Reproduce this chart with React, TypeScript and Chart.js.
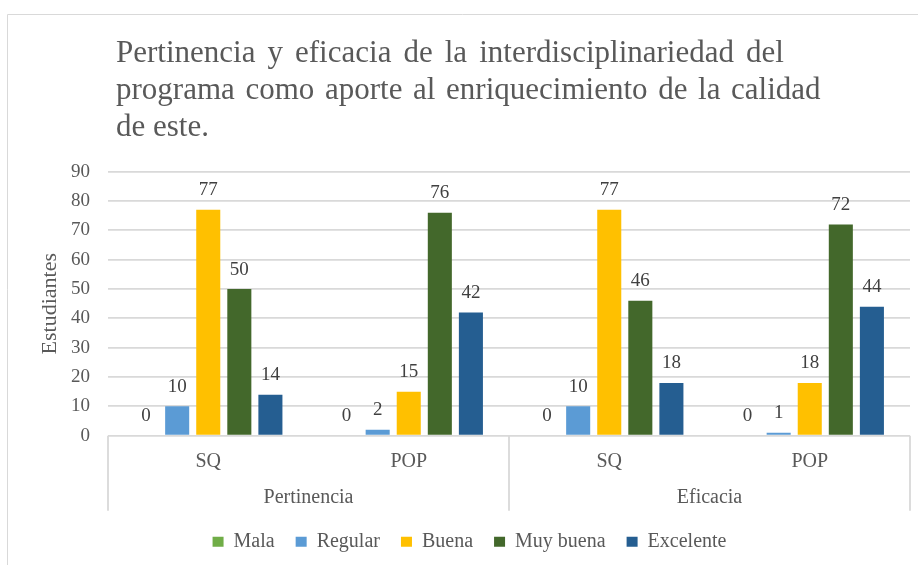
import React, { useEffect, useRef } from 'react';
import { Chart, registerables } from 'chart.js';

Chart.register(...registerables);

const titleLines = [
  'Pertinencia y eficacia de la interdisciplinariedad del',
  'programa como aporte al enriquecimiento de la calidad',
  'de este.',
];
const categories = ['SQ', 'POP', 'SQ', 'POP'];
const groups = ['Pertinencia', 'Eficacia'];
const seriesNames = ['Mala', 'Regular', 'Buena', 'Muy buena', 'Excelente'];
const mala = [0, 0, 0, 0];
const regular = [10, 2, 10, 1];
const buena = [77, 15, 77, 18];
const muyBuena = [50, 76, 46, 72];
const excelente = [14, 42, 18, 44];
const seriesValues = [mala, regular, buena, muyBuena, excelente];
const seriesColors = ['#70AD47', '#5B9BD5', '#FFC000', '#43682B', '#255E91'];
const yMin = 0;
const yMax = 90;
const yStep = 10;
const yAxisTitle = 'Estudiantes';

const FONT = '"Liberation Serif", "Times New Roman", serif';
const TEXT = '#595959';
const GRID = '#D9D9D9';

const framePlugin = {
  id: 'frame',
  beforeDraw(chart: any) {
    const { ctx, width, height } = chart;
    ctx.save();
    ctx.strokeStyle = GRID;
    ctx.lineWidth = 1;
    ctx.beginPath();
    ctx.moveTo(7.5, height);
    ctx.lineTo(7.5, 14.5);
    ctx.lineTo(width, 14.5);
    ctx.stroke();
    ctx.restore();
  },
};

const separatorPlugin = {
  id: 'separators',
  afterDraw(chart: any) {
    const { ctx, chartArea } = chart;
    const x = chart.scales.x;
    const x2 = chart.scales.x2;
    const mid = (x.getPixelForValue(1) + x.getPixelForValue(2)) / 2;
    const xs = [chartArea.left, mid, chartArea.right];
    ctx.save();
    ctx.strokeStyle = GRID;
    ctx.lineWidth = 1.8;
    ctx.beginPath();
    xs.forEach((px) => {
      ctx.moveTo(px, chartArea.bottom);
      ctx.lineTo(px, x2.bottom);
    });
    ctx.stroke();
    ctx.restore();
  },
};

const dataLabelPlugin = {
  id: 'valueLabels',
  afterDatasetsDraw(chart: any) {
    const { ctx } = chart;
    ctx.save();
    ctx.font = `19px ${FONT}`;
    ctx.fillStyle = '#404040';
    ctx.textAlign = 'center';
    ctx.textBaseline = 'middle';
    chart.data.datasets.forEach((ds: any, di: number) => {
      const meta = chart.getDatasetMeta(di);
      meta.data.forEach((el: any, i: number) => {
        ctx.fillText(String(ds.data[i]), el.x, el.y - 19.5);
      });
    });
    ctx.restore();
  },
};

export default function App() {
  const canvasRef = useRef<HTMLCanvasElement | null>(null);

  useEffect(() => {
    document.body.style.margin = '0';
    document.body.style.overflow = 'hidden';
    const canvas = canvasRef.current;
    if (!canvas) return;
    Chart.defaults.font.family = FONT;
    const chart = new Chart(canvas, {
      type: 'bar',
      data: {
        labels: categories,
        datasets: seriesNames.map((name, i) => ({
          label: name,
          data: seriesValues[i],
          backgroundColor: seriesColors[i],
          borderWidth: 0,
          categoryPercentage: 0.775,
          barPercentage: 0.774,
        })),
      },
      options: {
        responsive: false,
        animation: false,
        devicePixelRatio: 1,
        layout: { padding: { left: 29, right: 8, top: 171.7, bottom: 3.3 } },
        plugins: {
          title: { display: false },
          tooltip: { enabled: false },
          legend: {
            position: 'bottom',
            labels: {
              boxWidth: 11,
              boxHeight: 10,
              padding: 21,
              color: TEXT,
              font: { family: FONT, size: 20 },
            },
          },
        },
        scales: {
          x: {
            position: 'bottom',
            grid: { display: false, drawTicks: false },
            border: { display: false },
            ticks: {
              color: TEXT,
              font: { family: FONT, size: 20 },
              padding: 14.3,
              maxRotation: 0,
              autoSkip: false,
            },
            afterFit: (s: any) => {
              s.height = 45;
            },
          },
          x2: {
            type: 'category',
            labels: groups,
            position: 'bottom',
            offset: true,
            grid: { display: false, drawTicks: false },
            border: { display: false },
            ticks: {
              color: TEXT,
              font: { family: FONT, size: 20 },
              padding: 5.3,
              maxRotation: 0,
              autoSkip: false,
            },
            afterFit: (s: any) => {
              s.height = 30;
            },
          },
          y: {
            min: yMin,
            max: yMax,
            ticks: {
              stepSize: yStep,
              color: TEXT,
              font: { family: FONT, size: 19 },
              padding: 18,
            },
            grid: { color: GRID, lineWidth: 1.8, drawTicks: false },
            border: { display: false },
            title: {
              display: true,
              text: yAxisTitle,
              color: TEXT,
              font: { family: FONT, size: 22 },
              padding: { top: 7.8, bottom: 0 },
            },
            afterFit: (s: any) => {
              s.width = 79;
            },
          },
        },
      },
      plugins: [framePlugin, separatorPlugin, dataLabelPlugin],
    } as any);
    return () => chart.destroy();
  }, []);

  const lineSpacing = [4.3, 2.9, 0];
  return (
    <div style={{ position: 'relative', width: 918, height: 565, background: '#fff' }}>
      <canvas
        ref={canvasRef}
        width={918}
        height={565}
        style={{ position: 'absolute', left: 0, top: 0, width: 918, height: 565 }}
      />
      <div
        style={{
          position: 'absolute',
          left: 116,
          top: 32.6,
          fontFamily: FONT,
          fontSize: 31,
          lineHeight: '37.3px',
          color: TEXT,
          whiteSpace: 'nowrap',
        }}
      >
        {titleLines.map((line, i) => (
          <div key={i} style={{ wordSpacing: `${lineSpacing[i]}px` }}>
            {line}
          </div>
        ))}
      </div>
    </div>
  );
}
